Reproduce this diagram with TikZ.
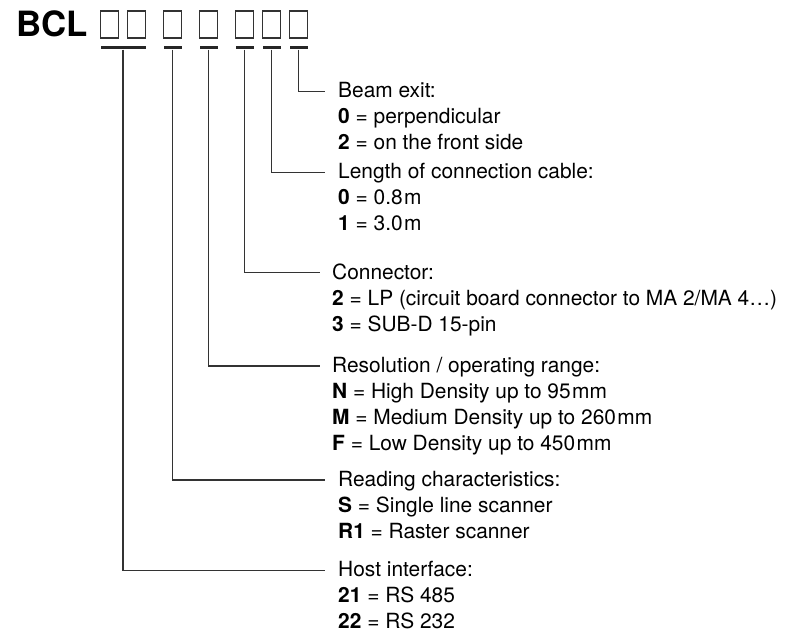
\documentclass[tikz,border=0pt]{standalone}
\usepackage{fontspec}
\setmainfont{TeX Gyre Heros}
\begin{document}
\begin{tikzpicture}[x = 1pt, y = -1pt,
  slot/.style = {draw = black!80, line width = 1.2pt, minimum width = 18pt, minimum height = 27pt, inner sep = 0pt},
  bar/.style = {fill = black!85, minimum width = 18pt, minimum height = 3pt, inner sep = 0pt},
  lead/.style = {draw = black!80, line width = 1.2pt},
  info/.style = {anchor = north west, inner sep = 0pt, align = left, font = \fontsize{20.9}{26}\selectfont}]
\useasboundingbox (0,0) rectangle (794,635);
\node (BCL) [anchor = base west, inner sep = 0pt, font = \fontsize{34.8}{40}\selectfont\bfseries] at (16,36) {BCL};
\node (S1) [slot] at (109.5,24.5) {};
\node (S2) [slot] at (136.5,24.5) {};
\node (S3) [slot] at (172.5,24.5) {};
\node (S4) [slot] at (208.5,24.5) {};
\node (S5) [slot] at (244.5,24.5) {};
\node (S6) [slot] at (271.5,24.5) {};
\node (S7) [slot] at (298.5,24.5) {};
\node (B1) [bar, minimum width = 45pt] at (123,47.8) {};
\node (B2) [bar] at (172.5,47.8) {};
\node (B3) [bar] at (208.5,47.8) {};
\node (B4) [bar] at (244.5,47.8) {};
\node (B5) [bar] at (271.5,47.8) {};
\node (B6) [bar] at (298.5,47.8) {};
\coordinate (beamend) at (325,91.7);
\coordinate (cableend) at (325,172.7);
\coordinate (connend) at (320,272.7);
\coordinate (resend) at (320,366);
\coordinate (readend) at (325,480);
\coordinate (hostend) at (325,570.7);
\draw [lead] (B6.south) |- (beamend);
\draw [lead] (B5.south) |- (cableend);
\draw [lead] (B4.south) |- (connend);
\draw [lead] (B3.south) |- (resend);
\draw [lead] (B2.south) |- (readend);
\draw [lead] (B1.south) |- (hostend);
\node (beam) [info] at (338,82.3) {Beam exit:\\ \textbf{0} = perpendicular\\ \textbf{2} = on the front side};
\node (cable) [info] at (338,163.3) {Length of connection cable:\\ \textbf{0} = 0.8\kern1.5pt m\\ \textbf{1} = 3.0\kern1.5pt m};
\node (conn) [info] at (332,263.3) {Connector:\\ \textbf{2} = LP (circuit board connector to MA 2/MA 4…)\\ \textbf{3} = SUB-D 15-pin};
\node (res) [info] at (332,356.6) {Resolution / operating range:\\ \textbf{N} = High Density up to 95\kern1.5pt mm\\ \textbf{M} = Medium Density up to 260\kern1.5pt mm\\ \textbf{F} = Low Density up to 450\kern1.5pt mm};
\node (read) [info] at (338,470.6) {Reading characteristics:\\ \textbf{S} = Single line scanner\\ \textbf{R1} = Raster scanner};
\node (host) [info] at (338,561.3) {Host interface:\\ \textbf{21} = RS 485\\ \textbf{22} = RS 232};
\end{tikzpicture}
\end{document}
